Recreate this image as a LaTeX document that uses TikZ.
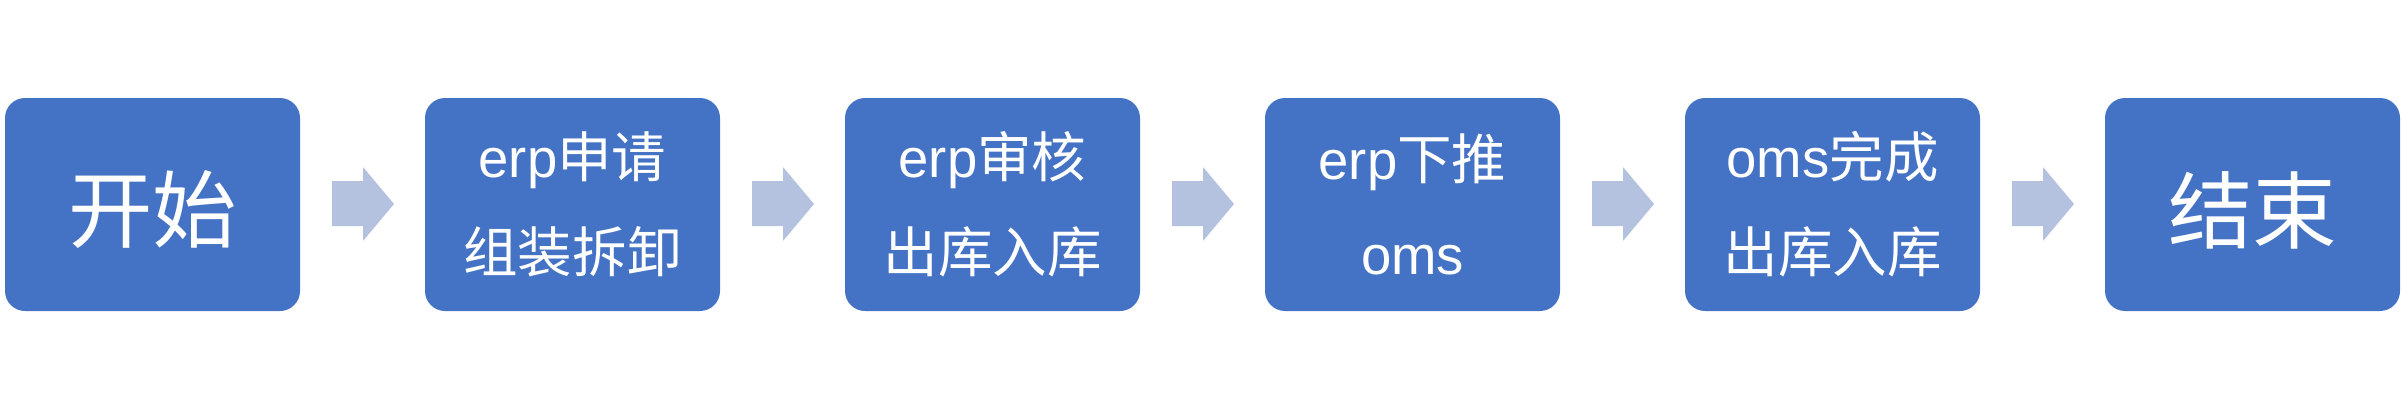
\documentclass[tikz,border=0pt]{standalone}
\usepackage{fontspec}
\setmainfont{Liberation Sans}
\newfontfamily\cjk{Noto Sans CJK SC}
\definecolor{boxblue}{HTML}{4472C4}
\definecolor{arrblue}{HTML}{B4C2E0}
\begin{document}
\begin{tikzpicture}[x=0.01cm,y=-0.01cm,
  box/.style={fill=boxblue,draw=none,rounded corners=0.2cm},
  arr/.style={fill=arrblue,draw=none},
  big/.style={text=white,font=\fontsize{24}{28}\selectfont\cjk},
  two/.style={text=white,align=center,font=\fontsize{15.5}{27}\selectfont}]
\useasboundingbox (0,0) rectangle (2403,400);
\foreach \i in {0,...,5}{
  \fill[box] (5+420*\i,98) rectangle (300+420*\i,311);
  \coordinate (c\i) at (152.5+420*\i,204);
}
\foreach \i in {0,...,4}{
  \fill[arr] (332+420*\i,181) -- (363+420*\i,181) -- (363+420*\i,167) -- (394+420*\i,204)
    -- (363+420*\i,241) -- (363+420*\i,226) -- (332+420*\i,226) -- cycle;
}
\node[big] (n0) at ([yshift=-0.06cm]c0) {开始};
\node[two] (n1) at (c1) {erp{\cjk 申请}\\{\cjk 组装拆卸}};
\node[two] (n2) at (c2) {erp{\cjk 审核}\\{\cjk 出库入库}};
\node[two] (n3) at (c3) {erp{\cjk 下推}\\oms};
\node[two] (n4) at (c4) {oms{\cjk 完成}\\{\cjk 出库入库}};
\node[big] (n5) at ([yshift=-0.06cm]c5) {结束};
\end{tikzpicture}
\end{document}
